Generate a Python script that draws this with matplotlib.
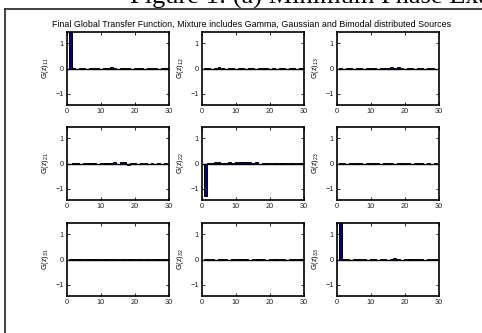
import numpy as np
import matplotlib.pyplot as plt
from matplotlib.lines import Line2D

plt.rcParams['font.family'] = ['Liberation Sans', 'DejaVu Sans']
plt.rcParams['mathtext.default'] = 'regular'

# Lag index (MATLAB style, 1-based)
lags = list(range(1, 31))

# Global transfer function coefficients
g11 = [1.9, 0.02, -0.02, 0.02, 0.01, -0.02, 0.02, 0.01, 0.02, -0.01, 0.02, 0.01, 0.05, 0.02, -0.01,
       0.02, 0.01, 0.02, -0.02, 0.01, 0.02, 0.01, -0.01, 0.02, 0.01, 0.02, -0.01, 0.01, 0.02, 0.01]
g12 = [0.01, 0.02, -0.02, 0.03, 0.05, 0.02, -0.01, 0.02, 0.01, -0.02, 0.02, 0.01, -0.02, 0.02, 0.01,
       -0.02, 0.02, 0.01, 0.02, -0.01, 0.02, -0.02, 0.01, 0.02, -0.03, 0.02, 0.01, -0.02, 0.02, 0.01]
g13 = [0.01, -0.02, 0.02, 0.01, -0.01, 0.02, 0.01, -0.02, 0.02, 0.01, 0.02, -0.01, 0.02, 0.01, 0.02,
       0.05, 0.02, 0.05, 0.02, -0.02, 0.01, 0.02, -0.02, 0.02, 0.01, -0.01, 0.02, 0.01, -0.02, 0.01]
g21 = [0.0, 0.01, 0.02, -0.01, 0.02, 0.01, 0.02, 0.02, -0.01, 0.02, 0.02, 0.03, 0.02, 0.04, -0.03,
       0.05, 0.04, -0.05, 0.03, 0.02, -0.01, 0.02, 0.01, 0.0, 0.01, 0.0, 0.01, 0.0, 0.01, 0.0]
g22 = [-1.3, 0.03, 0.02, 0.04, 0.05, 0.02, 0.03, 0.04, 0.03, 0.05, 0.04, 0.05, 0.04, 0.05, 0.03,
       0.04, -0.03, 0.02, 0.03, 0.02, 0.01, 0.03, 0.02, 0.03, 0.01, 0.02, 0.03, 0.01, 0.02, 0.01]
g23 = [0.01, 0.02, -0.02, 0.03, 0.02, 0.01, 0.03, -0.02, 0.02, 0.01, 0.02, 0.01, -0.01, 0.02, 0.01,
       0.02, -0.01, 0.01, 0.02, 0.01, 0.02, -0.01, 0.01, 0.02, 0.01, 0.0, 0.01, 0.0, 0.01, 0.0]
g31 = [0.01, 0.02, 0.03, 0.02, 0.03, 0.02, 0.01, 0.03, 0.02, 0.03, 0.02, 0.03, 0.03, 0.02, 0.01,
       0.02, 0.03, 0.02, 0.03, 0.02, 0.03, 0.02, 0.03, 0.02, 0.03, 0.02, 0.03, 0.02, 0.02, 0.01]
g32 = [0.01, 0.02, 0.01, -0.01, 0.02, 0.01, 0.02, -0.01, 0.01, 0.02, 0.01, 0.02, 0.01, -0.01, 0.02,
       0.01, 0.02, 0.01, -0.01, 0.02, 0.01, 0.02, 0.01, 0.02, -0.01, 0.01, 0.02, 0.01, 0.02, 0.01]
g33 = [1.9, 0.01, 0.02, -0.02, 0.01, 0.02, 0.03, 0.02, -0.03, 0.02, 0.03, -0.02, 0.02, 0.03, -0.02,
       0.02, 0.04, 0.03, -0.03, 0.02, 0.03, 0.02, 0.01, 0.02, 0.01, 0.0, 0.01, 0.02, 0.01, 0.0]

series = [[g11, g12, g13], [g21, g22, g23], [g31, g32, g33]]
labels = [['11', '12', '13'], ['21', '22', '23'], ['31', '32', '33']]

fig = plt.figure(figsize=(4.82, 3.33), dpi=100)
W, H = 482.0, 333.0

# page frame and clipped caption above the figure
fig.add_artist(Line2D([4.5 / W, 4.5 / W], [0, 1 - 8.5 / H], transform=fig.transFigure,
                      color='#333333', lw=1.3))
fig.add_artist(Line2D([4.5 / W, 1], [1 - 8.5 / H, 1 - 8.5 / H], transform=fig.transFigure,
                      color='#333333', lw=1.3))
fig.text(130 / W, 1 - 4 / H, 'Figure 1: (a) Minimum Phase Example', family='Liberation Serif',
         fontsize=19, va='baseline', ha='left')

fig.text(252 / W, 1 - 24 / H,
         'Final Global Transfer Function, Mixture includes Gamma, Gaussian and Bimodal distributed Sources',
         ha='center', va='center', fontsize=6.4)

col_left = [67, 202, 337]
row_top = [32, 127, 223]
aw, ah = 102, 73

for i in range(3):
    for j in range(3):
        ax = fig.add_axes([col_left[j] / W, 1 - (row_top[i] + ah) / H, aw / W, ah / H])
        ax.bar(lags, series[i][j], width=0.8, color='#00008c', edgecolor='k', linewidth=0.7)
        ax.axhline(0, color='k', lw=1.0)
        ax.set_xlim(0, 30)
        ax.set_ylim(-1.45, 1.45)
        ax.set_xticks([0, 10, 20, 30])
        ax.set_yticks([-1, 0, 1])
        ax.tick_params(direction='in', length=2, width=0.6, labelsize=5.3, pad=2.5,
                       top=True, right=True, colors='k', labelcolor='#222222')
        for s in ax.spines.values():
            s.set_linewidth(1.2)
        ax.set_ylabel('G(z)$_{%s}$' % labels[i][j], fontsize=5.3, labelpad=3)

fig.savefig('out.png', dpi=100)
